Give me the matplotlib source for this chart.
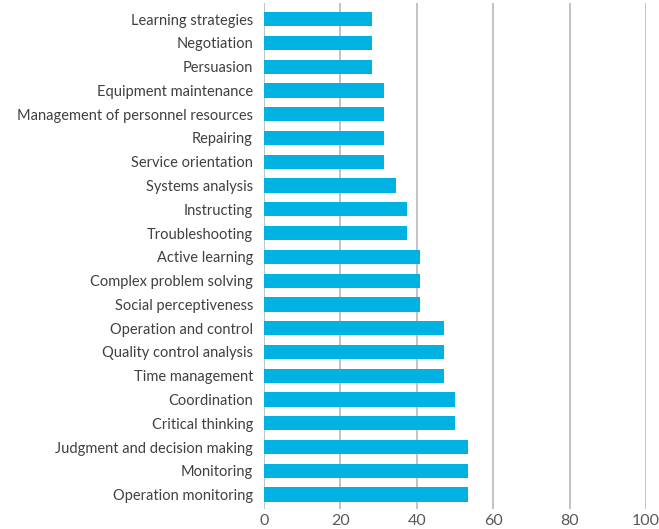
import matplotlib.pyplot as plt

skills = ['Learning strategies', 'Negotiation', 'Persuasion', 'Equipment maintenance',
          'Management of personnel resources', 'Repairing', 'Service orientation',
          'Systems analysis', 'Instructing', 'Troubleshooting', 'Active learning',
          'Complex problem solving', 'Social perceptiveness', 'Operation and control',
          'Quality control analysis', 'Time management', 'Coordination',
          'Critical thinking', 'Judgment and decision making', 'Monitoring',
          'Operation monitoring']
values = [28.3, 28.3, 28.3, 31.4, 31.4, 31.4, 31.4, 34.6, 37.4, 37.4, 40.8,
          40.8, 40.8, 47.1, 47.1, 47.1, 50.0, 50.0, 53.4, 53.4, 53.4]
xticks = [0, 20, 40, 60, 80, 100]

plt.rcParams['font.family'] = ['Lato', 'DejaVu Sans']

fig = plt.figure(figsize=(6.59, 5.29), dpi=100)
ax = fig.add_axes([0.4006, 0.038, 0.5797, 0.956])

pos = list(range(len(skills)))[::-1]
ax.barh(pos, values, height=0.6, color='#00B2E2', zorder=3)

ax.set_xlim(0, 100)
ax.set_ylim(-0.6, len(skills) - 0.33)
ax.set_xticks(xticks)
ax.set_yticks(pos)
ax.set_yticklabels(skills)
ax.grid(axis='x', color='#BFC3C8', linewidth=1.4, zorder=0)
for s in ax.spines.values():
    s.set_visible(False)
ax.tick_params(axis='both', length=0, labelsize=10.5, colors='#404040', pad=8)
ax.tick_params(axis='x', labelsize=11.5, colors='#595959', pad=4)

fig.savefig('out.png', dpi=100)
